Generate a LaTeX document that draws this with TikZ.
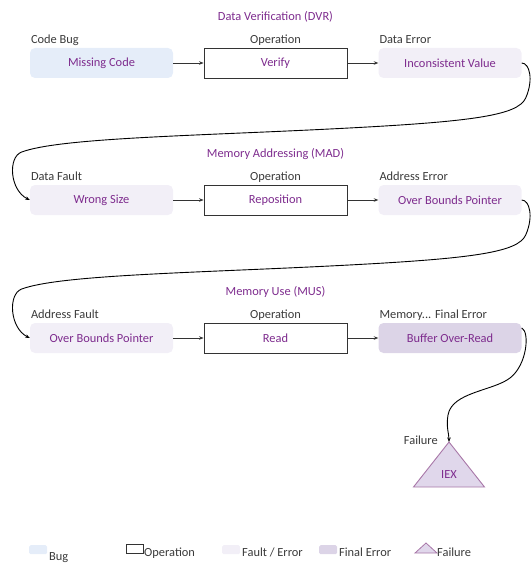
\documentclass[tikz,border=0pt]{standalone}
\usepackage{fontspec}
\setmainfont{Carlito}
\usetikzlibrary{arrows.meta}
\definecolor{bugfill}{HTML}{E5EDF9}
\definecolor{faultfill}{HTML}{F2EFF7}
\definecolor{finalfill}{HTML}{DCD4E7}
\definecolor{txtpurple}{HTML}{7E2C8E}
\definecolor{labelgray}{HTML}{3A3A3A}
\definecolor{opline}{HTML}{333333}
\definecolor{trifill}{HTML}{E0D7EB}
\definecolor{triline}{HTML}{A877A8}
\begin{document}
\begin{tikzpicture}[x=1pt,y=-1pt,
  font=\fontsize{12.4}{14}\selectfont,
  box/.style={minimum width=143pt, minimum height=30pt, inner sep=0pt,
    text=txtpurple, rounded corners=5pt},
  bugbox/.style={box, fill=bugfill},
  faultbox/.style={box, fill=faultfill},
  finalbox/.style={box, fill=finalfill},
  opbox/.style={box, sharp corners, draw=opline, line width=0.9pt, fill=white},
  tag/.style={text=labelgray, anchor=base west, inner sep=0pt},
  optag/.style={text=labelgray, anchor=base, inner sep=0pt},
  stage/.style={text=txtpurple, anchor=base, inner sep=0pt},
  flow/.style={draw=opline, line width=0.8pt, -{Stealth[length=4.5pt,width=3.5pt]}},
  loopline/.style={draw=black, line width=0.9pt, -{Stealth[length=4.5pt,width=3.5pt]}},
  tri/.style={draw=triline, fill=trifill, line width=0.9pt, line join=miter},
  swatch/.style={minimum width=18pt, minimum height=9pt, inner sep=0pt,
    anchor=north west, rounded corners=1.5pt},
  legtext/.style={text=labelgray, anchor=base west, inner sep=0pt},
]
\useasboundingbox (0,0) rectangle (531,575);

% ---- Data Verification row
\node[bugbox]   (mc)  at (101.5,63) {Missing Code};
\node[opbox]    (ver) at (275.5,63) {Verify};
\node[faultbox] (inc) at (450,63)   {Inconsistent Value};
\node[tag]   (mcTag)  at ([xshift=1pt,yshift=4pt]mc.north west)  {Code Bug};
\node[optag] (verTag) at ([yshift=4pt]ver.north) {Operation};
\node[tag]   (incTag) at ([xshift=1pt,yshift=4pt]inc.north west) {Data Error};
\node[stage] (dvr)    at ([yshift=27pt]ver.north) {Data Verification (DVR)};
\draw[flow] (mc) -- (ver);
\draw[flow] (ver) -- (inc);

% ---- Memory Addressing row
\node[faultbox] (ws)  at (101.5,200) {Wrong Size};
\node[opbox]    (rep) at (275.5,200) {Reposition};
\node[faultbox] (obp) at (450,200)   {Over Bounds Pointer};
\node[tag]   (wsTag)  at ([xshift=1pt,yshift=4pt]ws.north west)  {Data Fault};
\node[optag] (repTag) at ([yshift=4pt]rep.north) {Operation};
\node[tag]   (obpTag) at ([xshift=1pt,yshift=4pt]obp.north west) {Address Error};
\node[stage] (mad)    at ([yshift=27pt]rep.north) {Memory Addressing (MAD)};
\draw[flow] (ws) -- (rep);
\draw[flow] (rep) -- (obp);

% ---- Memory Use row
\node[faultbox] (obf) at (101.5,338) {Over Bounds Pointer};
\node[opbox]    (rd)  at (275.5,338) {Read};
\node[finalbox] (bor) at (450,338)   {Buffer Over-Read};
\node[tag]   (obfTag) at ([xshift=1pt,yshift=4pt]obf.north west) {Address Fault};
\node[optag] (rdTag)  at ([yshift=4pt]rd.north) {Operation};
\node[tag]   (borTag) at ([xshift=1pt,yshift=4pt]bor.north west) {Memory... Final Error};
\node[stage] (mus)    at ([yshift=27pt]rd.north) {Memory Use (MUS)};
\draw[flow] (obf) -- (rd);
\draw[flow] (rd) -- (bor);

% ---- row-to-row connectors
\begin{scope}[shift={(inc.east)}]
  \draw[loopline] (inc.east) .. controls (8,0) and (12,17) .. (4,35)
    .. controls (-4,53) and (-52,59) .. (-192,66)
    .. controls (-332,73) and (-462,75) .. (-500,89)
    .. controls (-514,94) and (-512,127) .. (ws.west);
\end{scope}
\begin{scope}[shift={(obp.east)}]
  \draw[loopline] (obp.east) .. controls (8,0) and (12,17) .. (4,35)
    .. controls (-4,53) and (-52,59) .. (-192,66)
    .. controls (-332,73) and (-462,75) .. (-500,89)
    .. controls (-514,94) and (-512,128) .. (obf.west);
\end{scope}

% ---- failure triangle
\coordinate (apex) at (449,442);
\draw[tri] (apex) -- (484.5,487) -- (413.5,487) -- cycle;
\node[text=txtpurple] (iex) at (449,475) {IEX};
\node[text=labelgray, anchor=base east, inner sep=0pt] (failTag) at (438,444) {Failure};
\draw[loopline] (bor.8) .. controls (530,332) and (527,365) .. (510,378)
  .. controls (493,391) and (452,392) .. (448,415)
  .. controls (446,427) and (449,434) .. (apex);

% ---- legend
\node[swatch, fill=bugfill] (lgBugBox) at (29,545) {};
\node[legtext] (lgBug) at (49,560) {Bug};
\node[swatch, sharp corners, draw=opline, line width=0.8pt, minimum width=17pt] (lgOpBox) at (126,544) {};
\node[legtext] (lgOp) at (144,556) {Operation};
\node[swatch, fill=faultfill] (lgFaultBox) at (222,545) {};
\node[legtext] (lgFault) at (242,556) {Fault / Error};
\node[swatch, fill=finalfill] (lgFinalBox) at (319,545) {};
\node[legtext] (lgFinal) at (339,556) {Final Error};
\draw[tri, line width=0.8pt] (415,553) -- (426,543) -- (437,553) -- cycle;
\node[legtext] (lgFail) at (437,556) {Failure};
\end{tikzpicture}
\end{document}
